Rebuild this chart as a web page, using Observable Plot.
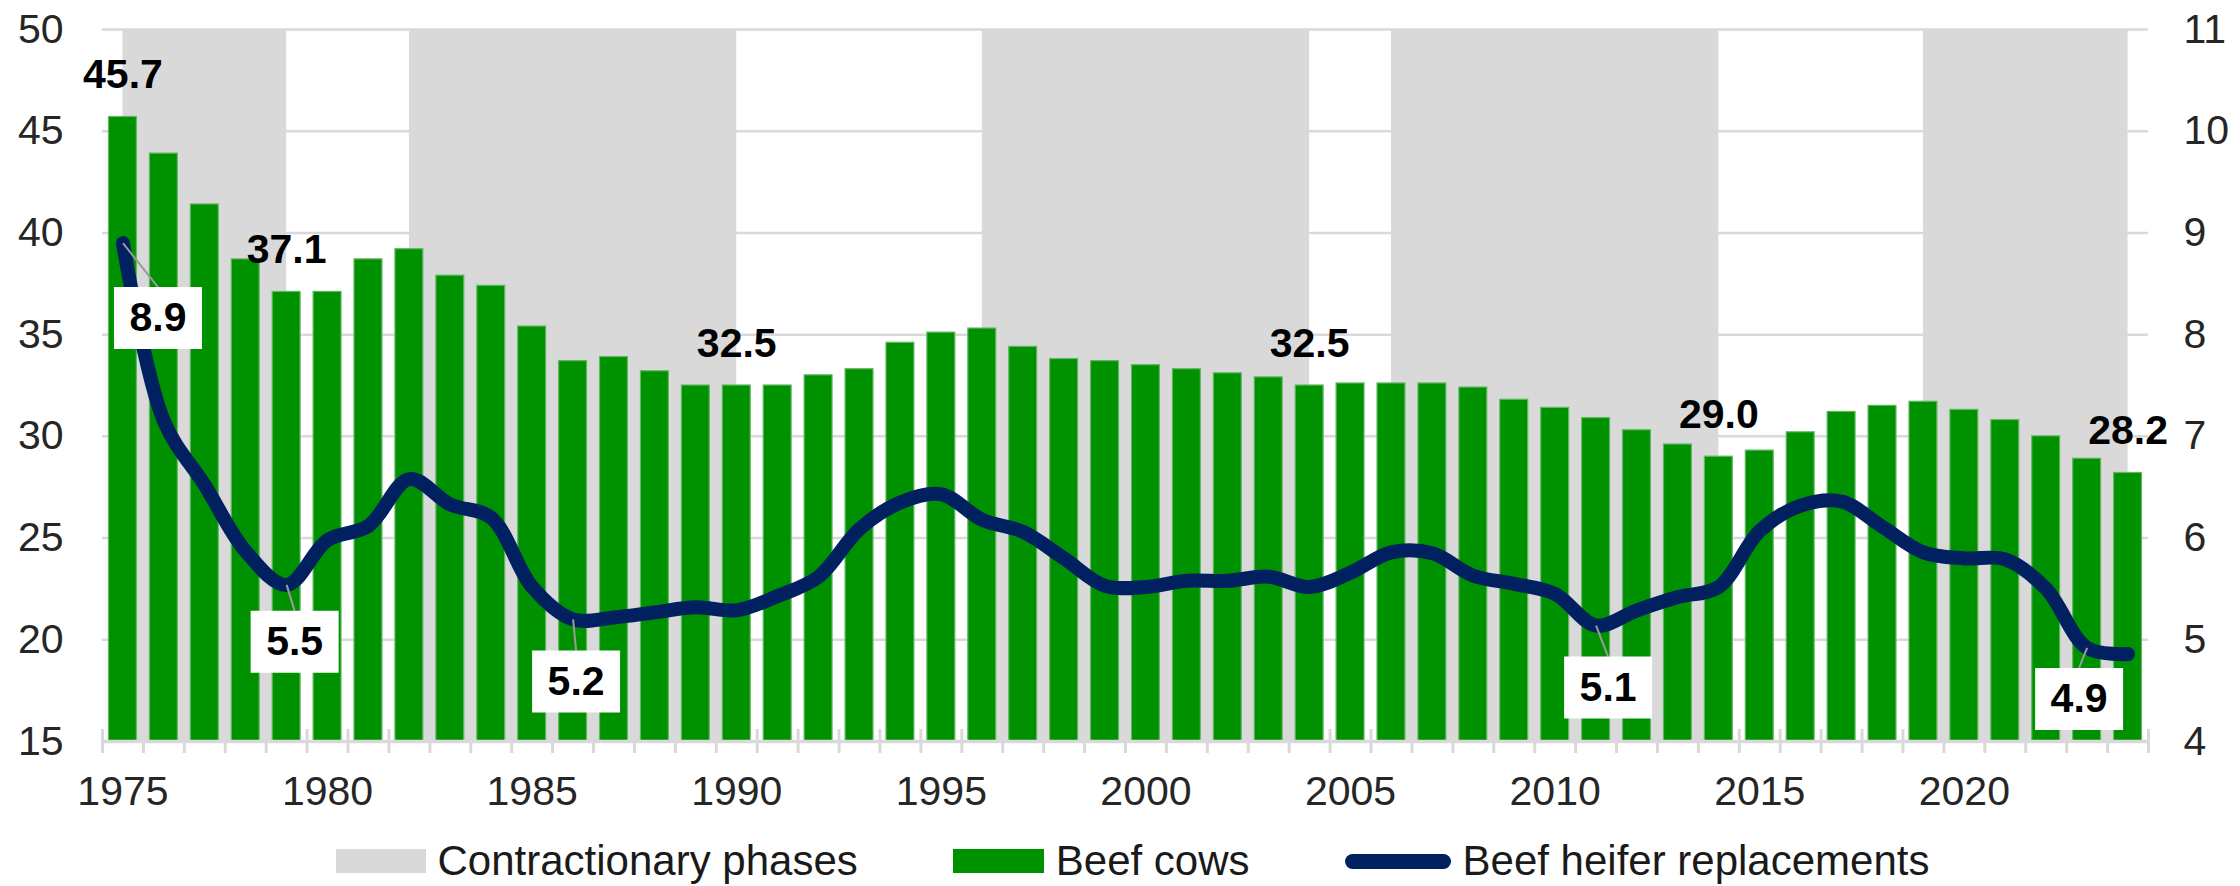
<!DOCTYPE html>
<html>
<head>
<meta charset="utf-8">
<script src="https://cdn.jsdelivr.net/npm/d3@7"></script>
<script src="https://cdn.jsdelivr.net/npm/@observablehq/plot@0.6"></script>
<style>
  html, body { margin: 0; padding: 0; background: #fff; }
  body { position: relative; width: 2240px; height: 886px; overflow: hidden; font-family: "Liberation Sans", Arial, sans-serif; }
  #chart svg { display: block; }
  #legend { position: absolute; left: 0; top: 841px; width: 2240px; height: 40px; line-height: 40px; display: flex; align-items: center; justify-content: center; padding-left: 25px; box-sizing: border-box; font-size: 42px; color: #1a1a1a; }
  .item { display: flex; align-items: center; }
  .sw { display: inline-block; }
</style>
</head>
<body>
<div id="chart"></div>
<div id="legend"></div>
<script>
// ---- data ----
const years = [1975,1976,1977,1978,1979,1980,1981,1982,1983,1984,1985,1986,1987,1988,1989,1990,1991,1992,1993,1994,1995,1996,1997,1998,1999,2000,2001,2002,2003,2004,2005,2006,2007,2008,2009,2010,2011,2012,2013,2014,2015,2016,2017,2018,2019,2020,2021,2022,2023,2024];
const beefCows = [45.7,43.9,41.4,38.7,37.1,37.1,38.7,39.2,37.9,37.4,35.4,33.7,33.9,33.2,32.5,32.5,32.5,33.0,33.3,34.6,35.1,35.3,34.4,33.8,33.7,33.5,33.3,33.1,32.9,32.5,32.6,32.6,32.6,32.4,31.8,31.4,30.9,30.3,29.6,29.0,29.3,30.2,31.2,31.5,31.7,31.3,30.8,30.0,28.9,28.2];
const heiferReplacements = [8.9,7.15,6.52,5.87,5.54,5.98,6.12,6.58,6.33,6.20,5.52,5.20,5.22,5.27,5.32,5.29,5.43,5.62,6.09,6.35,6.43,6.18,6.06,5.80,5.53,5.52,5.58,5.58,5.62,5.52,5.66,5.86,5.85,5.63,5.55,5.45,5.14,5.29,5.42,5.52,6.07,6.32,6.36,6.11,5.86,5.80,5.79,5.50,4.92,4.86];
const phaseStarts = [1975,1982,1996,2006,2019];
const phaseEnds = [1979,1990,2004,2014,2024];
const cowLabelYears = [1975,1979,1990,2004,2014,2024];
const heiferLabelYears = [1975,1979,1986,2011,2023];
const xTickYears = [1975,1980,1985,1990,1995,2000,2005,2010,2015,2020];
const leftTicks = [15,20,25,30,35,40,45,50];
const rightTicks = [4,5,6,7,8,9,10,11];
const legendLabels = ["Contractionary phases","Beef cows","Beef heifer replacements"];

// ---- presentation config ----
const GRAY = "#d9d9d9", GREEN = "#009100", NAVY = "#002060";
const heiferLabelOffsets = {1975:[35,75],1979:[8,57],1986:[3,62],2011:[12,62],2023:[-8,51]};

// secondary axis mapping (right 4..11 -> left 15..50)
const toLeft = v => 15 + (v - 4) * 5;
const fromLeft = v => (v - 15) / 5 + 4;

const cows = years.map((year, i) => ({year, value: beefCows[i]}));
const heifers = years.map((year, i) => ({year, value: heiferReplacements[i]}));
const phases = phaseStarts.map((s, i) => ({start: s, end: phaseEnds[i]}));
const boundaries = years.map(y => y - 0.5).concat([years[years.length - 1] + 0.5]);
const fmt = d3.format(".1f");

const boxSymbol = {draw(ctx) { ctx.rect(-44, -31, 88, 62); }};
const leaderSymbol = (dx, dy) => ({draw(ctx) { ctx.moveTo(0, 0); ctx.lineTo(dx, dy); }});

const heiferLabelMarks = [];
for (const yr of heiferLabelYears) {
  const d = heifers.find(h => h.year === yr);
  const [dx, dy] = heiferLabelOffsets[yr];
  heiferLabelMarks.push(
    Plot.dot([d], {x: "year", y: h => toLeft(h.value), symbol: leaderSymbol(dx, dy - 31), r: 5, fill: "none", stroke: "#9a9a9a", strokeWidth: 2})
  );
}
for (const yr of heiferLabelYears) {
  const d = heifers.find(h => h.year === yr);
  const [dx, dy] = heiferLabelOffsets[yr];
  heiferLabelMarks.push(
    Plot.dot([d], {x: "year", y: h => toLeft(h.value), symbol: boxSymbol, r: 5, fill: "white", stroke: "none", dx, dy}),
    Plot.text([d], {x: "year", y: h => toLeft(h.value), text: h => fmt(h.value), dx, dy, fontWeight: "bold", fill: "#000", fontSize: 41, lineAnchor: "middle"})
  );
}

const chart = Plot.plot({
  width: 2240,
  height: 840,
  marginTop: 29,
  marginBottom: 99,
  marginLeft: 102,
  marginRight: 92,
  style: {fontFamily: '"Liberation Sans", Arial, sans-serif', fontSize: "41px", color: "#262626", background: "white"},
  x: {type: "linear", domain: [1974.5, 2024.5]},
  y: {domain: [15, 50]},
  marks: [
    Plot.ruleY(leftTicks.slice(1), {stroke: GRAY, strokeWidth: 2.5}),
    Plot.rectY(phases, {x1: "start", x2: "end", y1: 15, y2: 50, fill: GRAY}),
    Plot.rectY(cows, {x1: d => d.year - 0.5, x2: d => d.year + 0.5, y1: 15, y2: "value", insetLeft: 6.5, insetRight: 6.5, fill: GREEN, stroke: "#62b862", strokeWidth: 1.2}),
    Plot.ruleY([15], {stroke: GRAY, strokeWidth: 3.5}),
    Plot.ruleX(boundaries, {x: d => d, y1: 15, y2: 15, insetTop: -12, insetBottom: -12, stroke: GRAY, strokeWidth: 3}),
    Plot.line(heifers, {x: "year", y: d => toLeft(d.value), stroke: NAVY, strokeWidth: 14, strokeLinejoin: "round", strokeLinecap: "round", curve: "catmull-rom"}),
    Plot.text(cows.filter(d => cowLabelYears.includes(d.year)), {x: "year", y: "value", text: d => fmt(d.value), dy: -42, lineAnchor: "middle", fontWeight: "bold", fill: "#000", fontSize: 41}),
    ...heiferLabelMarks,
    Plot.axisY({anchor: "left", ticks: leftTicks, tickSize: 0, tickPadding: 39, label: null, fontSize: 41, fill: "#262626"}),
    Plot.axisY({anchor: "right", ticks: rightTicks.map(toLeft), tickFormat: d => String(Math.round(fromLeft(d))), tickSize: 0, tickPadding: 35, label: null, fontSize: 41, fill: "#262626"}),
    Plot.axisX({ticks: xTickYears, tickFormat: d => String(d), tickSize: 0, tickPadding: 34, label: null, fontSize: 41, fill: "#262626"})
  ]
});
document.getElementById("chart").appendChild(chart);

// ---- legend ----
const legend = d3.select("#legend");
const swatches = [
  {label: legendLabels[0], style: `width:90px;height:24px;background:${GRAY};`},
  {label: legendLabels[1], style: `width:91px;height:24px;background:${GREEN};`},
  {label: legendLabels[2], style: `width:106px;height:15px;border-radius:8px;background:${NAVY};`}
];
swatches.forEach((s, i) => {
  const it = legend.append("div").attr("class", "item").style("margin-right", i < swatches.length - 1 ? "95px" : "0");
  it.append("span").attr("class", "sw").attr("style", s.style + "margin-right:12px;");
  it.append("span").text(s.label);
});
</script>
</body>
</html>
